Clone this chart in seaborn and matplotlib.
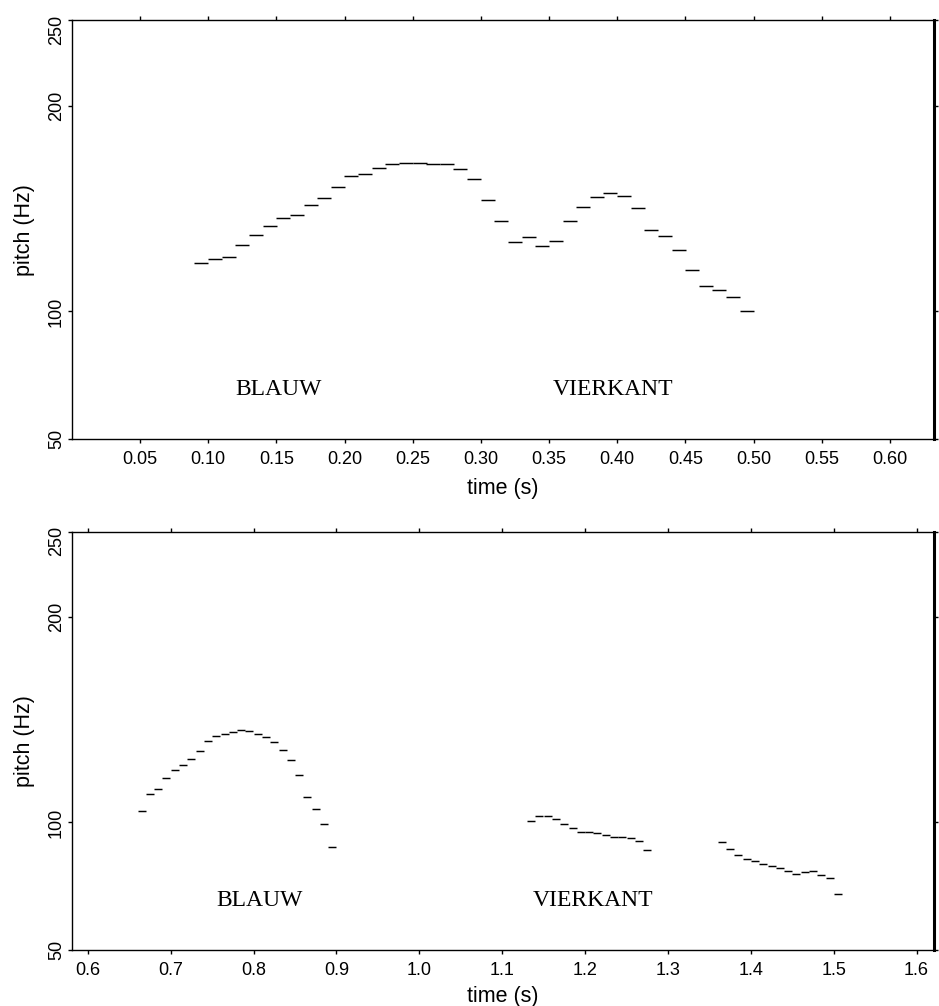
import numpy as np
import pandas as pd
import matplotlib
matplotlib.use("Agg")
import matplotlib.pyplot as plt
import matplotlib.transforms as mtransforms
import seaborn as sns

# ---------------- data ----------------
top_time = [0.095, 0.105, 0.115, 0.125, 0.135, 0.145, 0.155, 0.165, 0.175, 0.185,
            0.195, 0.205, 0.215, 0.225, 0.235, 0.245, 0.255, 0.265, 0.275, 0.285,
            0.295, 0.305, 0.315, 0.325, 0.335, 0.345, 0.355, 0.365, 0.375, 0.385,
            0.395, 0.405, 0.415, 0.425, 0.435, 0.445, 0.455, 0.465, 0.475, 0.485,
            0.495]
top_pitch = [121.0, 122.8, 123.9, 129.5, 134.2, 138.3, 142.0, 143.5, 148.3, 151.9,
             157.0, 162.8, 164.0, 166.6, 168.9, 169.4, 169.3, 168.8, 168.7, 166.2,
             161.0, 150.6, 140.8, 130.9, 133.2, 129.1, 131.1, 140.5, 147.5, 152.4,
             154.4, 152.7, 146.7, 136.2, 133.6, 127.2, 118.1, 111.0, 109.0, 106.1,
             100.3]

bottom_time = [0.665, 0.675, 0.685, 0.695, 0.705, 0.715, 0.725, 0.735, 0.745, 0.755,
               0.765, 0.775, 0.785, 0.795, 0.805, 0.815, 0.825, 0.835, 0.845, 0.855,
               0.865, 0.875, 0.885, 0.895,
               1.135, 1.145, 1.155, 1.165, 1.175, 1.185, 1.195, 1.205, 1.215, 1.225,
               1.235, 1.245, 1.255, 1.265, 1.275,
               1.365, 1.375, 1.385, 1.395, 1.405, 1.415, 1.425, 1.435, 1.445, 1.455,
               1.465, 1.475, 1.485, 1.495, 1.505]
bottom_pitch = [104.7, 112.3, 114.6, 119.4, 123.0, 125.4, 127.9, 131.9, 136.4, 138.8,
                139.9, 141.0, 141.5, 141.2, 139.9, 138.4, 135.9, 132.2, 127.7, 120.9,
                110.8, 105.7, 99.4, 89.8,
                100.4, 102.8, 102.8, 101.4, 99.4, 97.7, 96.0, 96.0, 95.6, 94.8,
                93.9, 93.9, 93.4, 92.3, 88.6,
                91.6, 88.8, 86.5, 84.9, 83.9, 82.7, 82.1, 81.3, 80.0, 78.9,
                79.7, 80.0, 78.5, 77.2, 71.1]

words = ["BLAUW", "VIERKANT"]
top_xticks = [0.05, 0.10, 0.15, 0.20, 0.25, 0.30, 0.35, 0.40, 0.45, 0.50, 0.55, 0.60]
top_xticklabels = ["0.05", "0.10", "0.15", "0.20", "0.25", "0.30", "0.35", "0.40",
                   "0.45", "0.50", "0.55", "0.60"]
bottom_xticks = [0.6, 0.7, 0.8, 0.9, 1.0, 1.1, 1.2, 1.3, 1.4, 1.5, 1.6]
bottom_xticklabels = ["0.6", "0.7", "0.8", "0.9", "1.0", "1.1", "1.2", "1.3", "1.4",
                      "1.5", "1.6"]
yticks = [50, 100, 200, 250]
yticklabels = ["50", "100", "200", "250"]

# ---------------- style ----------------
sns.set_theme(style="ticks")
plt.rcParams['font.family'] = ['Liberation Sans', 'DejaVu Sans']
plt.rcParams['text.color'] = 'black'
plt.rcParams['axes.labelcolor'] = 'black'
plt.rcParams['xtick.color'] = 'black'
plt.rcParams['ytick.color'] = 'black'


def erb(f):
    f = np.asarray(f, dtype=float)
    with np.errstate(invalid='ignore', divide='ignore'):
        return 21.4 * np.log10(1 + 0.00437 * f)


def inv_erb(e):
    e = np.asarray(e, dtype=float)
    return (10 ** (e / 21.4) - 1) / 0.00437


W, H, DPI = 9.39, 10.06, 100
fig = plt.figure(figsize=(W, H), dpi=DPI)
ax1 = fig.add_axes([72 / 939, (1006 - 439.3) / 1006, 862 / 939, 419.3 / 1006])
ax2 = fig.add_axes([72 / 939, 56 / 1006, 862 / 939, 418.3 / 1006])


def panel(ax, times, pitches, xlim, xticks, xticklabels, word_x, xlabel_y):
    df = pd.DataFrame({"time": times, "pitch": pitches})
    ax.set_yscale('function', functions=(erb, inv_erb))
    ax.set_xlim(xlim)
    ax.set_ylim(50, 250)
    px_per_s = ax.get_position().width * W * DPI / (xlim[1] - xlim[0])
    msize = 0.0097 * px_per_s * 72 / DPI
    sns.scatterplot(data=df, x="time", y="pitch", marker="_", s=msize ** 2,
                    color="black", linewidth=1.05, ax=ax, legend=False)
    ax.set_xlim(xlim)
    ax.set_ylim(50, 250)
    ax.set_xticks(xticks)
    ax.set_xticklabels(xticklabels)
    ax.set_yticks(yticks)
    ax.set_yticklabels(yticklabels, rotation=90, va="center")
    ax.minorticks_off()
    ax.tick_params(axis="both", direction="out", length=3, width=1,
                   top=True, right=True, labelsize=13)
    ax.tick_params(axis="x", pad=5.5)
    ax.tick_params(axis="y", pad=2)
    # top y label sits slightly lower than its tick, as in the reference
    lab = ax.get_yticklabels()[-1]
    lab.set_transform(lab.get_transform() +
                      mtransforms.ScaledTranslation(0, -7 / 72, fig.dpi_scale_trans))
    for side, sp in ax.spines.items():
        sp.set_visible(True)
        sp.set_color("black")
        sp.set_linewidth(1.0)
    ax.spines["right"].set_linewidth(2.2)

    ax.set_xlabel("time (s)", fontsize=15.5)
    ax.xaxis.set_label_coords(0.5, xlabel_y)
    ax.xaxis.label.set_verticalalignment("center")
    ax.set_ylabel("pitch (Hz)", fontsize=15.5)
    ax.yaxis.set_label_coords(-0.055, 0.5)
    ax.yaxis.label.set_verticalalignment("center")
    ax.yaxis.label.set_horizontalalignment("center")

    for w, xf in zip(words, word_x):
        ax.text(xf, 0.106, w, transform=ax.transAxes, ha="center", va="baseline",
                family="Liberation Serif", fontsize=17, color="black")


panel(ax1, top_time, top_pitch, (0.0, 0.6324), top_xticks, top_xticklabels,
      [0.240, 0.628], -0.1185)
panel(ax2, bottom_time, bottom_pitch, (0.581, 1.621), bottom_xticks,
      bottom_xticklabels, [0.217, 0.605], -0.112)

fig.savefig("out.png", dpi=DPI)
